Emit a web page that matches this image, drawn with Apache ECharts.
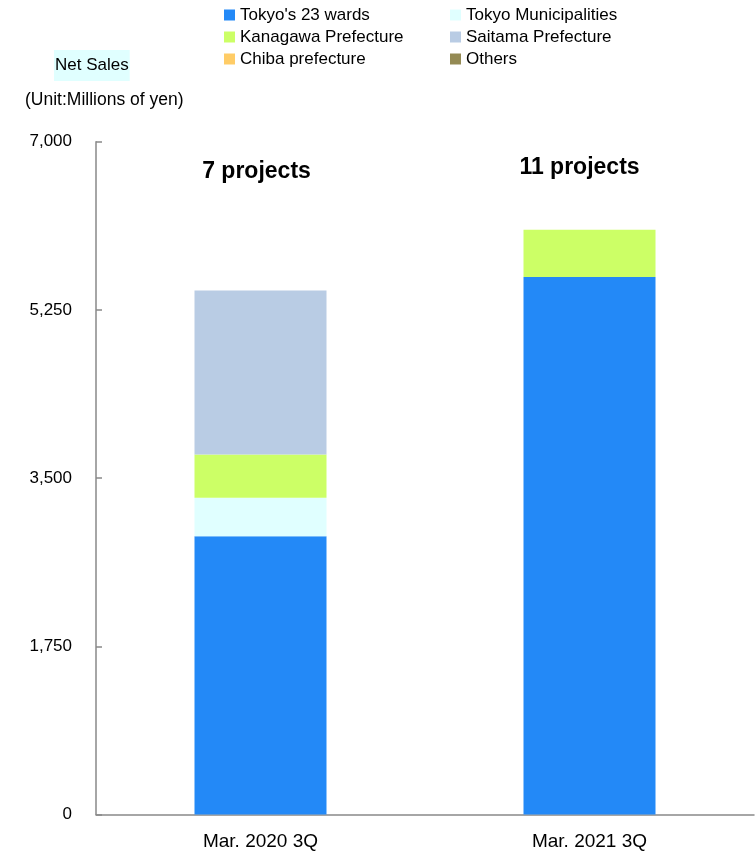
<!DOCTYPE html>
<html>
<head>
<meta charset="utf-8">
<style>
  html, body { margin: 0; padding: 0; background: #fff; }
  #chart { width: 755px; height: 854px; }
</style>
<script src="https://cdn.jsdelivr.net/npm/echarts@6/dist/echarts.min.js"></script>
</head>
<body>
<div id="chart"></div>
<script>
// Net sales by area (millions of yen)
const categories = ['Mar. 2020 3Q', 'Mar. 2021 3Q'];
const tokyo23Wards = [2894, 5593];
const tokyoMunicipalities = [402, 0];
const kanagawa = [450, 492];
const saitama = [1705, 0];
const chiba = [0, 0];
const others = [0, 0];
const projectLabels = ['7 projects', '11 projects'];
const yTicks = { min: 0, max: 7000, interval: 1750 };

const FONT = '"Liberation Sans", Arial, sans-serif';

const seriesDefs = [
  { name: "Tokyo's 23 wards", data: tokyo23Wards, color: '#2389F7' },
  { name: 'Tokyo Municipalities', data: tokyoMunicipalities, color: '#E0FFFF' },
  { name: 'Kanagawa Prefecture', data: kanagawa, color: '#CCFF66' },
  { name: 'Saitama Prefecture', data: saitama, color: '#B9CCE4' },
  { name: 'Chiba prefecture', data: chiba, color: '#FFCC66' },
  { name: 'Others', data: others, color: '#948A54' }
];

const chart = echarts.init(document.getElementById('chart'), null, { renderer: 'canvas' });

const legendCommon = {
  orient: 'vertical',
  top: 6.5,
  padding: 0,
  icon: 'rect',
  itemWidth: 11,
  itemHeight: 11,
  itemGap: 5,
  selectedMode: false,
  textStyle: { fontFamily: FONT, fontSize: 17, color: '#000', lineHeight: 17 }
};

const option = {
  animation: false,
  backgroundColor: '#fff',
  textStyle: { fontFamily: FONT },
  legend: [
    Object.assign({}, legendCommon, { left: 224, data: [seriesDefs[0].name, seriesDefs[2].name, seriesDefs[4].name] }),
    Object.assign({}, legendCommon, { left: 450, data: [seriesDefs[1].name, seriesDefs[3].name, seriesDefs[5].name] })
  ],
  grid: { left: 96, right: 1, top: 141.7, bottom: 39.5, containLabel: false },
  xAxis: {
    type: 'category',
    data: categories,
    axisLine: { lineStyle: { color: '#898989', width: 1.5 } },
    axisTick: { show: false },
    axisLabel: { color: '#000', fontSize: 19, fontFamily: FONT, margin: 18 }
  },
  yAxis: {
    type: 'value',
    min: yTicks.min,
    max: yTicks.max,
    interval: yTicks.interval,
    splitLine: { show: false },
    axisLine: { show: true, lineStyle: { color: '#898989', width: 1.5 } },
    axisTick: { show: true, inside: true, length: 6, lineStyle: { color: '#898989', width: 1.5 } },
    axisLabel: {
      color: '#000', fontSize: 17, fontFamily: FONT, margin: 24,
      formatter: v => v.toLocaleString('en-US')
    }
  },
  series: seriesDefs.map(s => ({
    name: s.name,
    type: 'bar',
    stack: 'sales',
    barWidth: 132,
    data: s.data,
    itemStyle: { color: s.color },
    emphasis: { disabled: true }
  })),
  graphic: [
    {
      type: 'text', left: 54, top: 50,
      style: {
        text: 'Net Sales', fontFamily: FONT, fontSize: 17, fill: '#000',
        backgroundColor: '#E0FFFF', padding: [7, 1, 7, 1]
      }
    },
    {
      type: 'text', left: 25, top: 91,
      style: { text: '(Unit:Millions of yen)', fontFamily: FONT, fontSize: 17.5, fill: '#000' }
    }
  ]
};

chart.setOption(option);

// Project counts above each bar
const labelYs = [172, 168];
const labelShift = [-4, -10];
const projectGraphics = categories.map((c, i) => {
  const px = chart.convertToPixel({ xAxisIndex: 0 }, c);
  return {
    type: 'text',
    x: px + labelShift[i],
    y: labelYs[i],
    style: {
      text: projectLabels[i], fontFamily: FONT, fontSize: 23, fontWeight: 'bold', fill: '#000',
      align: 'center', verticalAlign: 'middle'
    }
  };
});
chart.setOption({ graphic: option.graphic.concat(projectGraphics) });
</script>
</body>
</html>
